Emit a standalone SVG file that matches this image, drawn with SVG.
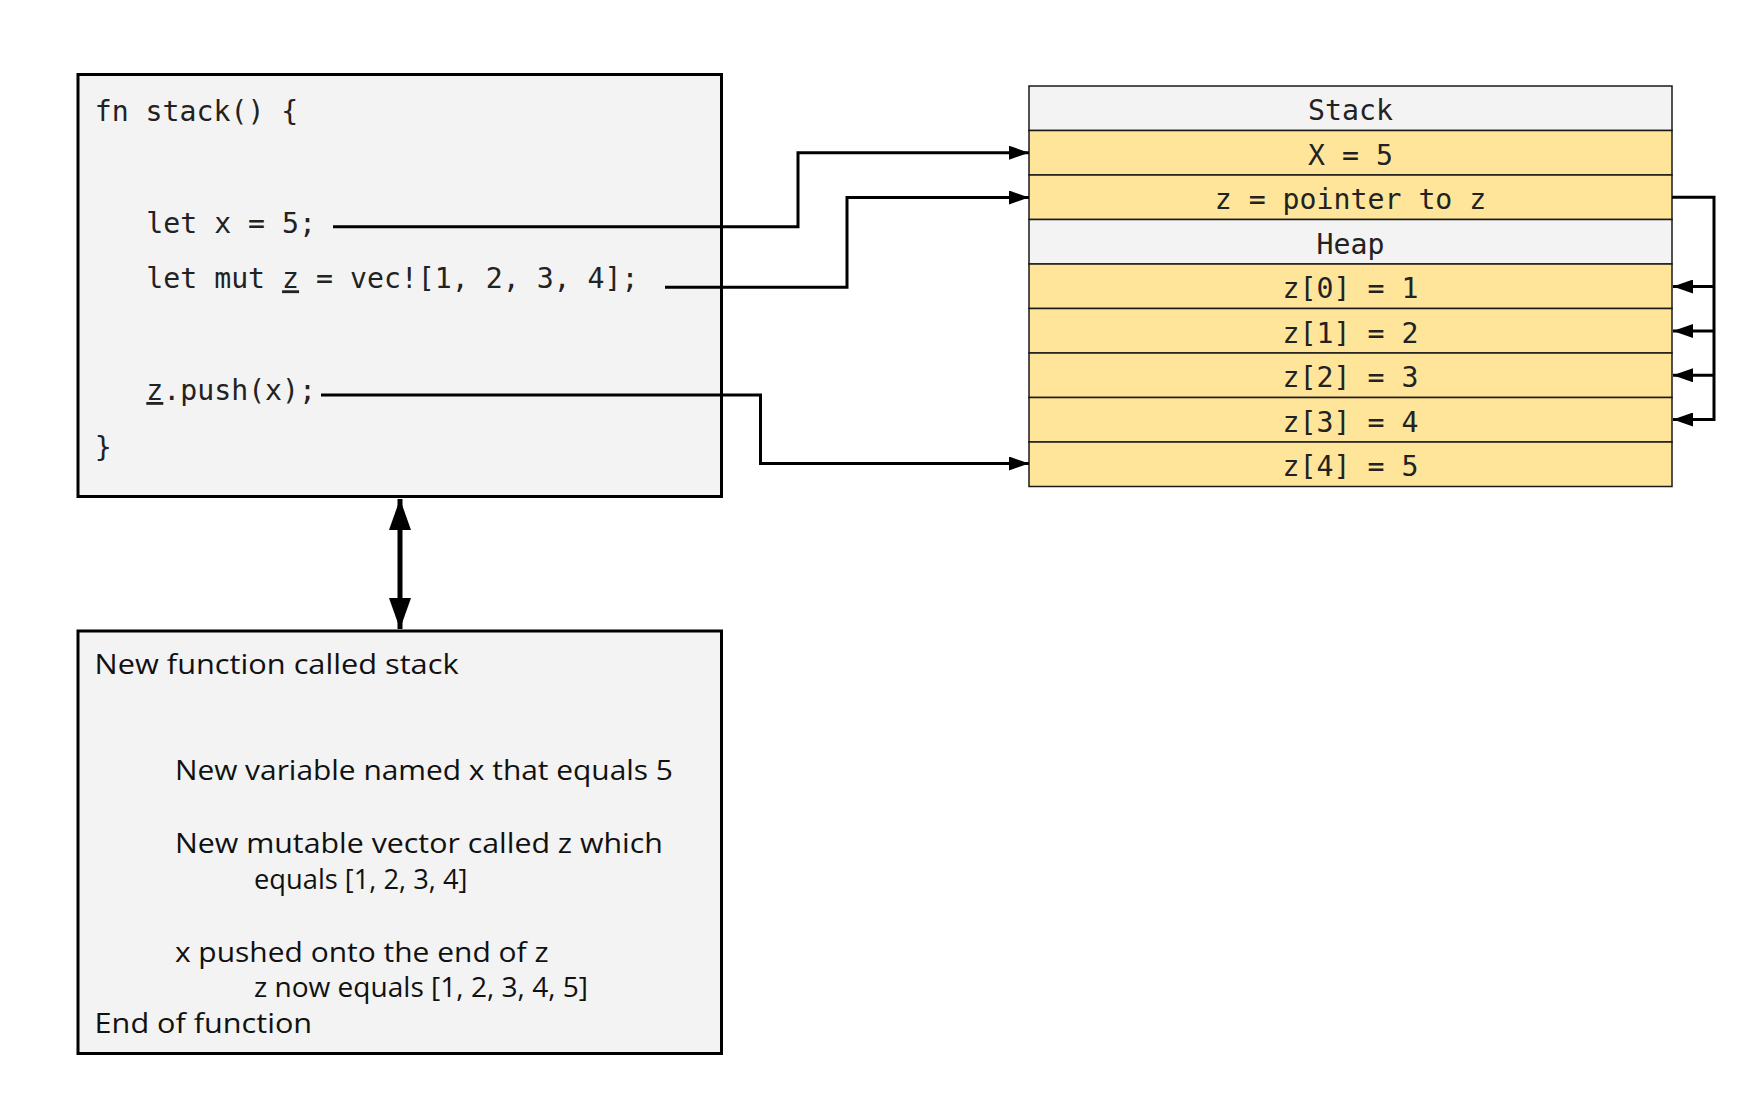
<svg xmlns="http://www.w3.org/2000/svg" width="1746" height="1094" viewBox="0 0 1746 1094">
  <style>
    .box { fill: #f3f3f3; stroke: #000; stroke-width: 3; }
    .code { font-family: "DejaVu Sans Mono", monospace; font-size: 28.2px; fill: #222; }
    .cell { font-family: "DejaVu Sans Mono", monospace; font-size: 28.2px; fill: #222; text-anchor: middle; }
    .desc { font-family: "Open Sans", "Noto Sans", sans-serif; font-size: 27px; fill: #111; }
    .hdr { fill: #f3f3f3; stroke: #1a1a1a; stroke-width: 1.5; }
    .val { fill: #ffe599; stroke: #1a1a1a; stroke-width: 1.5; }
    .conn { fill: none; stroke: #000; stroke-width: 3; }
    .u { text-decoration: underline; }
  </style>
  <defs>
    <marker id="arr" markerUnits="userSpaceOnUse" markerWidth="20" markerHeight="14" refX="20" refY="7" orient="auto">
      <path d="M0,0 L20,7 L0,14 Z" fill="#000"/>
    </marker>
    <marker id="big" markerUnits="userSpaceOnUse" markerWidth="31" markerHeight="22" refX="31" refY="11" orient="auto-start-reverse">
      <path d="M0,0 L31,11 L0,22 Z" fill="#000"/>
    </marker>
  </defs>
  <rect width="1746" height="1094" fill="#fff"/>

  <g id="code-box">
    <rect class="box" x="78" y="74.5" width="643.5" height="422"/>
    <text class="code" x="94.7" y="120.7">fn stack() {</text>
    <text class="code" x="146.3" y="232.7">let x = 5;</text>
    <text class="code" x="146.3" y="288.3">let mut <tspan class="u">z</tspan> = vec![1, 2, 3, 4];</text>
    <text class="code" x="146.3" y="400"><tspan class="u">z</tspan>.push(x);</text>
    <text class="code" x="94.7" y="457">}</text>
  </g>

  <g id="description-box">
    <rect class="box" x="78" y="631" width="643.5" height="422.5"/>
    <text class="desc" x="94.6" y="674.3" textLength="364" lengthAdjust="spacingAndGlyphs">New function called stack</text>
    <text class="desc" x="174.9" y="780" textLength="498" lengthAdjust="spacingAndGlyphs">New variable named x that equals 5</text>
    <text class="desc" x="174.9" y="853.3" textLength="488" lengthAdjust="spacingAndGlyphs">New mutable vector called z which</text>
    <text class="desc" x="254" y="889.3" textLength="213.5" lengthAdjust="spacingAndGlyphs">equals [1, 2, 3, 4]</text>
    <text class="desc" x="174.9" y="961.7" textLength="373.6" lengthAdjust="spacingAndGlyphs">x pushed onto the end of z</text>
    <text class="desc" x="254" y="996.7" textLength="334" lengthAdjust="spacingAndGlyphs">z now equals [1, 2, 3, 4, 5]</text>
    <text class="desc" x="94.6" y="1032.7" textLength="217.5" lengthAdjust="spacingAndGlyphs">End of function</text>
  </g>

  <g id="memory-table">
    <g id="row-stack">
      <rect class="hdr" x="1029" y="86" width="643" height="44.5"/>
      <text class="cell" x="1350.5" y="120.2">Stack</text>
    </g>
    <g id="row-x">
      <rect class="val" x="1029" y="130.5" width="643" height="44.5"/>
      <text class="cell" x="1350.5" y="164.7">X = 5</text>
    </g>
    <g id="row-z-pointer">
      <rect class="val" x="1029" y="175" width="643" height="44.5"/>
      <text class="cell" x="1350.5" y="209.2">z = pointer to z</text>
    </g>
    <g id="row-heap">
      <rect class="hdr" x="1029" y="219.5" width="643" height="44.5"/>
      <text class="cell" x="1350.5" y="253.7">Heap</text>
    </g>
    <g id="row-z0">
      <rect class="val" x="1029" y="264" width="643" height="44.5"/>
      <text class="cell" x="1350.5" y="298.2">z[0] = 1</text>
    </g>
    <g id="row-z1">
      <rect class="val" x="1029" y="308.5" width="643" height="44.5"/>
      <text class="cell" x="1350.5" y="342.7">z[1] = 2</text>
    </g>
    <g id="row-z2">
      <rect class="val" x="1029" y="353" width="643" height="44.5"/>
      <text class="cell" x="1350.5" y="387.2">z[2] = 3</text>
    </g>
    <g id="row-z3">
      <rect class="val" x="1029" y="397.5" width="643" height="44.5"/>
      <text class="cell" x="1350.5" y="431.7">z[3] = 4</text>
    </g>
    <g id="row-z4">
      <rect class="val" x="1029" y="442" width="643" height="44.5"/>
      <text class="cell" x="1350.5" y="476.2">z[4] = 5</text>
    </g>
  </g>

  <g id="connectors">
    <polyline class="conn" points="333,226.7 798,226.7 798,152.7 1029,152.7" marker-end="url(#arr)"/>
    <polyline class="conn" points="665,287.3 847,287.3 847,197.5 1029,197.5" marker-end="url(#arr)"/>
    <polyline class="conn" points="321,395 760.5,395 760.5,463.5 1029,463.5" marker-end="url(#arr)"/>
    <polyline class="conn" points="1672,197.3 1714,197.3 1714,419.5 1673,419.5" marker-end="url(#arr)"/>
    <line class="conn" x1="1714" y1="286.5" x2="1673" y2="286.5" marker-end="url(#arr)"/>
    <line class="conn" x1="1714" y1="331" x2="1673" y2="331" marker-end="url(#arr)"/>
    <line class="conn" x1="1714" y1="375.3" x2="1673" y2="375.3" marker-end="url(#arr)"/>
    <line x1="400" y1="499" x2="400" y2="629" stroke="#000" stroke-width="5" marker-start="url(#big)" marker-end="url(#big)"/>
  </g>
</svg>
